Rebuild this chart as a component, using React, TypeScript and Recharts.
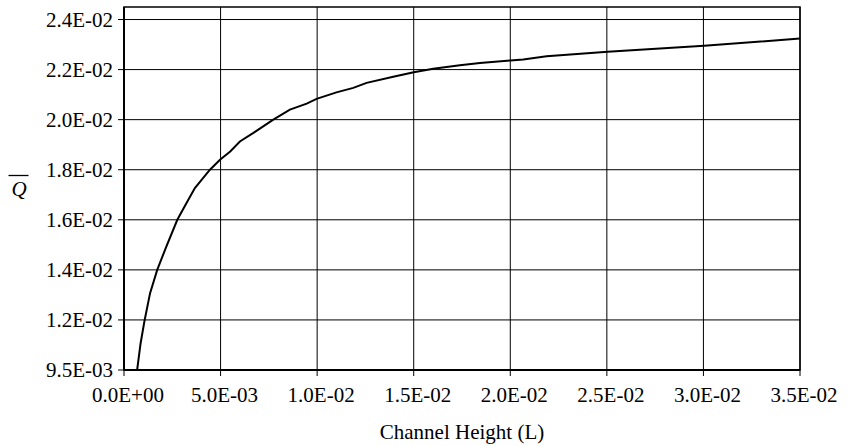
import React from 'react';
import { LineChart, Line, XAxis, YAxis, CartesianGrid, ReferenceArea, Label } from 'recharts';

const channelHeight = [
  0.00068, 0.00086, 0.00107, 0.00135, 0.00172, 0.00216, 0.00276, 0.00328, 0.00367,
  0.00445, 0.00497, 0.0055, 0.0060, 0.0067, 0.00773, 0.00859, 0.00946, 0.00997,
  0.0110, 0.01187, 0.01256, 0.01394, 0.0150, 0.01601, 0.01739, 0.01843, 0.0200,
  0.02067, 0.02188, 0.02504, 0.03004, 0.035,
];
const qBar = [
  0.0095, 0.01057, 0.0115, 0.01257, 0.0135, 0.01437, 0.0155, 0.01623, 0.01677,
  0.0175, 0.0179, 0.01823, 0.01863, 0.01897, 0.0195, 0.0199, 0.02014, 0.02033,
  0.02059, 0.02077, 0.02097, 0.02121, 0.02139, 0.02153, 0.02167, 0.02176, 0.02186,
  0.0219, 0.02203, 0.02221, 0.02245, 0.02274,
];

const xTicks = [0, 0.005, 0.01, 0.015, 0.02, 0.025, 0.03, 0.035];
const xTickLabels = ['0.0E+00', '5.0E-03', '1.0E-02', '1.5E-02', '2.0E-02', '2.5E-02', '3.0E-02', '3.5E-02'];
const yTicks = [0.0095, 0.0115, 0.0135, 0.0155, 0.0175, 0.0195, 0.0215, 0.0235];
const yTickLabels = ['9.5E-03', '1.2E-02', '1.4E-02', '1.6E-02', '1.8E-02', '2.0E-02', '2.2E-02', '2.4E-02'];
const xDomain = [0, 0.035];
const yDomain = [0.0095, 0.024];

const data = channelHeight.map((h, i) => ({ h, q: qBar[i] }));

const font = '"Liberation Serif", "Times New Roman", serif';

export default function App() {
  return (
    <div style={{ position: 'absolute', left: 0, top: 0, background: '#fff' }}>
      <LineChart width={850} height={446} data={data} margin={{ top: 7, right: 50, bottom: 0, left: 0 }}>
        <CartesianGrid stroke="#000" strokeWidth={1} horizontalValues={yTicks} verticalValues={xTicks} />
        <ReferenceArea x1={xDomain[0]} x2={xDomain[1]} y1={yDomain[0]} y2={yDomain[1]} fill="none" stroke="#000" strokeWidth={1.5} ifOverflow="visible" />
        <XAxis
          dataKey="h"
          type="number"
          domain={xDomain}
          ticks={xTicks}
          allowDataOverflow
          height={76}
          tickSize={6}
          tickMargin={11}
          axisLine={{ stroke: '#000', strokeWidth: 2 }}
          tickLine={{ stroke: '#000', strokeWidth: 1 }}
          tick={{ fill: '#000', fontSize: 21, fontFamily: font, dx: 4 }}
          tickFormatter={(v, i) => xTickLabels[i]}
          interval={0}
        >
          <Label value="Channel Height (L)" position="insideBottom" offset={7} style={{ fill: '#000', fontSize: 21, fontFamily: font }} />
        </XAxis>
        <YAxis
          type="number"
          domain={yDomain}
          ticks={yTicks}
          allowDataOverflow
          width={124}
          tickSize={6}
          tickMargin={5}
          axisLine={{ stroke: '#000', strokeWidth: 2 }}
          tickLine={{ stroke: '#000', strokeWidth: 1 }}
          tick={{ fill: '#000', fontSize: 21, fontFamily: font }}
          tickFormatter={(v, i) => yTickLabels[i]}
          interval={0}
        >
          <Label
            content={() => (
              <g>
                <line x1={8.5} x2={28.5} y1={175.5} y2={175.5} stroke="#000" strokeWidth={1.3} />
                <text x={19} y={196} textAnchor="middle" fill="#000" fontSize={21} fontStyle="italic" fontFamily={font}>
                  Q
                </text>
              </g>
            )}
          />
        </YAxis>
        <Line type="linear" dataKey="q" stroke="#000" strokeWidth={2} dot={false} isAnimationActive={false} />
      </LineChart>
    </div>
  );
}
